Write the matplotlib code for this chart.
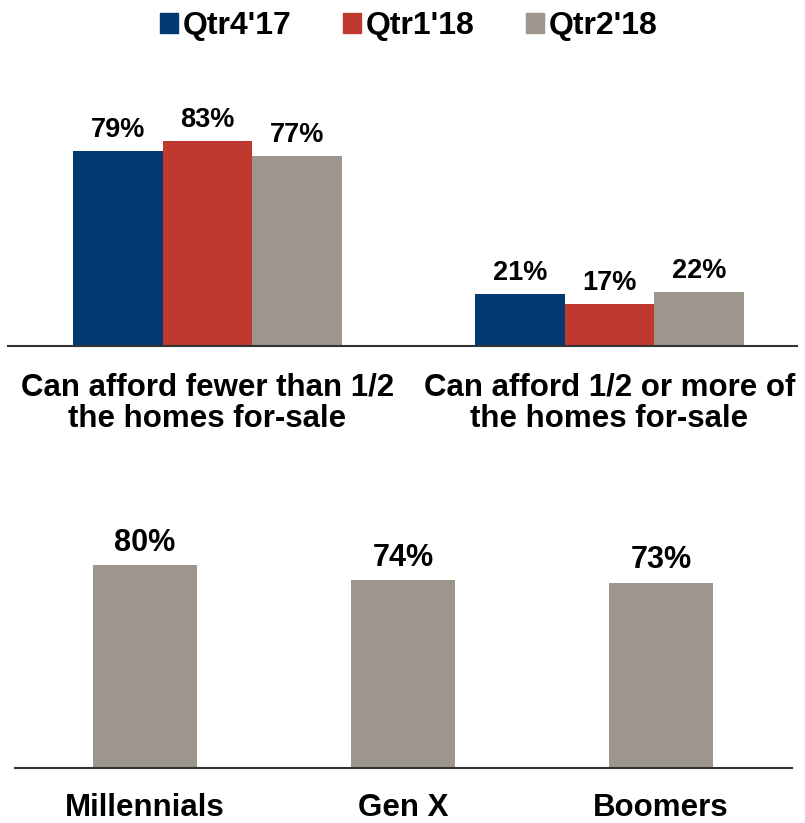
import numpy as np
import matplotlib.pyplot as plt
from matplotlib.patches import Patch

# data
quarters = ["Qtr4'17", "Qtr1'18", "Qtr2'18"]
afford_groups = ["Can afford fewer than 1/2\nthe homes for-sale",
                 "Can afford 1/2 or more of\nthe homes for-sale"]
afford_vals = {
    "Qtr4'17": [79, 21],
    "Qtr1'18": [83, 17],
    "Qtr2'18": [77, 22],
}
generations = ["Millennials", "Gen X", "Boomers"]
gen_vals = [80, 74, 73]

colors = ["#003a70", "#c0392f", "#9c968c"]

plt.rcParams['font.family'] = ['Liberation Sans', 'DejaVu Sans']
plt.rcParams['font.weight'] = 'bold'

fig = plt.figure(figsize=(8.05, 8.23), dpi=100)

# top chart
ax1 = fig.add_axes([0.00994, 0.5796, 0.980, 0.3001])
x = np.arange(len(afford_groups))
w = 0.2226
for i, q in enumerate(quarters):
    xs = x + (i - 1) * w
    ax1.bar(xs, afford_vals[q], width=w, color=colors[i], label=q)
    for xx, v in zip(xs, afford_vals[q]):
        ax1.text(xx, v + 3.2, f"{v}%", ha='center', va='bottom',
                 fontsize=19.5, fontweight='bold')
ax1.set_xlim(-0.496, 1.466)
ax1.set_ylim(0, 100)
ax1.set_yticks([])
ax1.set_xticks(x)
ax1.set_xticklabels(afford_groups, fontsize=22.5, fontweight='bold', linespacing=1.08)
ax1.tick_params(axis='x', length=0, pad=19)
for s in ['top', 'right', 'left']:
    ax1.spines[s].set_visible(False)
ax1.spines['bottom'].set_color('#333333')
ax1.spines['bottom'].set_linewidth(1.5)

handles = [Patch(color=c, label=q) for c, q in zip(colors, quarters)]
fig.legend(handles=handles, loc='center', bbox_to_anchor=(0.508, 0.968), ncol=3,
           frameon=False, fontsize=23, handlelength=0.55, handleheight=0.55,
           handletextpad=0.15, columnspacing=1.62)

# bottom chart
ax2 = fig.add_axes([15 / 805, 0.0668, 777 / 805, 254 / 823])
xg = np.arange(len(generations))
ax2.bar(xg, gen_vals, width=0.401, color=colors[2])
for xx, v in zip(xg, gen_vals):
    ax2.text(xx, v + 2.8, f"{v}%", ha='center', va='bottom',
             fontsize=22, fontweight='bold')
ax2.set_xlim(-0.504, 2.508)
ax2.set_ylim(0, 100)
ax2.set_yticks([])
ax2.set_xticks(xg)
ax2.set_xticklabels(generations, fontsize=22.5, fontweight='bold')
ax2.tick_params(axis='x', length=0, pad=18)
for s in ['top', 'right', 'left']:
    ax2.spines[s].set_visible(False)
ax2.spines['bottom'].set_color('#333333')
ax2.spines['bottom'].set_linewidth(1.5)

fig.savefig('out.png', dpi=100)
